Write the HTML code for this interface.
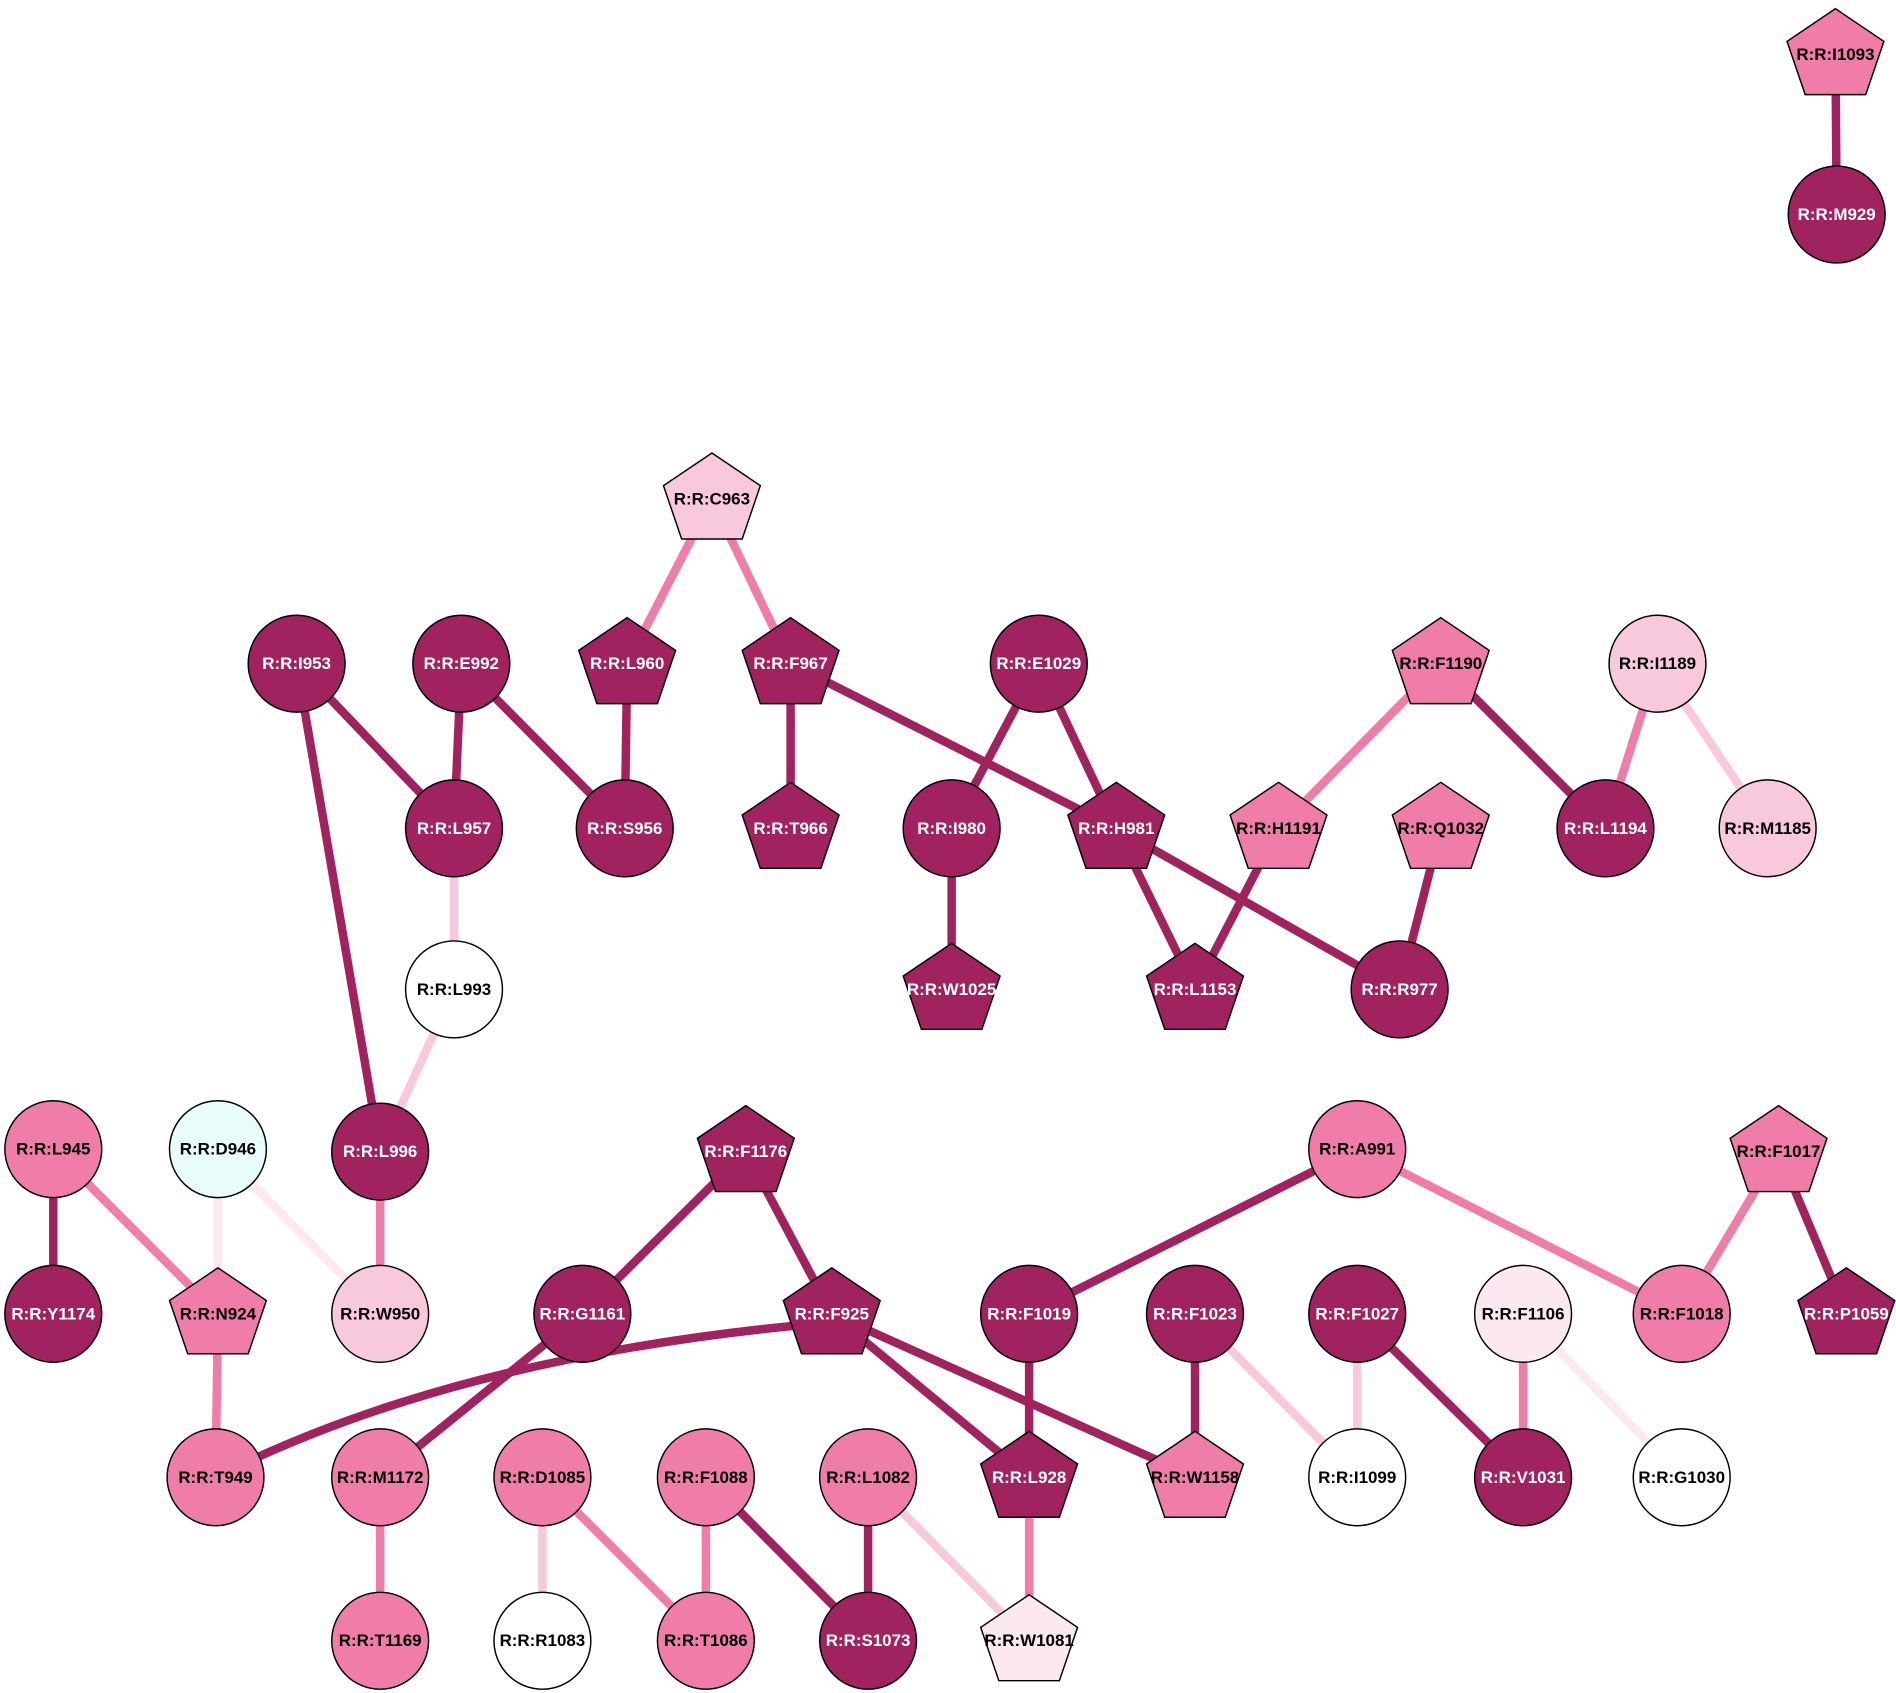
<!DOCTYPE html>
<html><head><meta charset="utf-8"><style>
html,body{margin:0;padding:0;background:#fff;}
svg{display:block;}
text{font-family:"Liberation Sans",Arial,sans-serif;font-weight:bold;font-size:14px;text-anchor:middle;dominant-baseline:central;}
.d{fill:#a0225e;stroke:#000;stroke-width:1.2}
.m{fill:#f07ca9;stroke:#000;stroke-width:1.2}
.l{fill:#f8c8dc;stroke:#000;stroke-width:1.2}
.v{fill:#fce8f0;stroke:#000;stroke-width:1.2}
.c{fill:#e8fcfc;stroke:#000;stroke-width:1.2}
.w{fill:#fff;stroke:#000;stroke-width:1.2}
.tw{fill:#fff}.tb{fill:#000}
line,path{stroke-width:7;fill:none}
.ed{stroke:#a0225e}.em{stroke:#f07ca9}.el{stroke:#f8c8dc}.ev{stroke:#fce8f0}
</style></head><body>
<svg width="1896" height="1693" viewBox="0 0 1566 1398" xmlns="http://www.w3.org/2000/svg">
<defs>
<polygon id="p" points="0,-38 40,-11 25,33 -25,33 -40,-11"/>
</defs>
<line class="ed" x1="1516" y1="45" x2="1517" y2="177"/>
<line class="em" x1="588" y1="412" x2="518" y2="548"/>
<line class="em" x1="588" y1="412" x2="653" y2="548"/>
<line class="ed" x1="245" y1="548" x2="375" y2="684"/>
<line class="ed" x1="245" y1="548" x2="314" y2="951"/>
<line class="ed" x1="381" y1="548" x2="375" y2="684"/>
<line class="ed" x1="381" y1="548" x2="516" y2="684"/>
<line class="ed" x1="518" y1="548" x2="516" y2="684"/>
<line class="ed" x1="653" y1="548" x2="653" y2="684"/>
<line class="ed" x1="653" y1="548" x2="922" y2="684"/>
<line class="ed" x1="922" y1="684" x2="1156" y2="817"/>
<line class="ed" x1="858" y1="548" x2="786" y2="684"/>
<line class="ed" x1="858" y1="548" x2="922" y2="684"/>
<line class="ed" x1="786" y1="684" x2="786" y2="817"/>
<line class="ed" x1="922" y1="684" x2="987" y2="817"/>
<line class="ed" x1="1056" y1="684" x2="987" y2="817"/>
<line class="em" x1="1190" y1="548" x2="1056" y2="684"/>
<line class="ed" x1="1190" y1="548" x2="1326" y2="684"/>
<line class="em" x1="1369" y1="548" x2="1326" y2="684"/>
<line class="el" x1="1369" y1="548" x2="1460" y2="684"/>
<line class="ed" x1="1190" y1="684" x2="1156" y2="817"/>
<line class="el" x1="375" y1="684" x2="375" y2="817"/>
<line class="el" x1="375" y1="817" x2="314" y2="951"/>
<line class="em" x1="314" y1="951" x2="314" y2="1085"/>
<line class="ed" x1="44" y1="949" x2="44" y2="1085"/>
<line class="em" x1="44" y1="949" x2="180" y2="1085"/>
<line class="ev" x1="180" y1="949" x2="180" y2="1085"/>
<line class="ev" x1="180" y1="949" x2="314" y2="1085"/>
<line class="em" x1="180" y1="1085" x2="178" y2="1220"/>
<line class="ed" x1="616" y1="951" x2="481" y2="1085"/>
<line class="ed" x1="616" y1="951" x2="687" y2="1085"/>
<line class="ed" x1="481" y1="1085" x2="314" y2="1220"/>
<path class="ed" d="M178 1220 Q380 1118 687 1092"/>
<line class="ed" x1="687" y1="1085" x2="850" y2="1220"/>
<line class="ed" x1="687" y1="1085" x2="987" y2="1220"/>
<line class="ed" x1="1121" y1="949" x2="850" y2="1085"/>
<line class="em" x1="1121" y1="949" x2="1389" y2="1085"/>
<line class="em" x1="1469" y1="951" x2="1389" y2="1085"/>
<line class="ed" x1="1469" y1="951" x2="1525" y2="1085"/>
<line class="ed" x1="850" y1="1085" x2="850" y2="1220"/>
<line class="ed" x1="987" y1="1085" x2="987" y2="1220"/>
<line class="el" x1="987" y1="1085" x2="1121" y2="1220"/>
<line class="el" x1="1121" y1="1085" x2="1121" y2="1220"/>
<line class="ed" x1="1121" y1="1085" x2="1258" y2="1220"/>
<line class="em" x1="1258" y1="1085" x2="1258" y2="1220"/>
<line class="ev" x1="1258" y1="1085" x2="1389" y2="1220"/>
<line class="em" x1="314" y1="1220" x2="314" y2="1355"/>
<line class="el" x1="448" y1="1220" x2="448" y2="1355"/>
<line class="em" x1="448" y1="1220" x2="583" y2="1355"/>
<line class="em" x1="583" y1="1220" x2="583" y2="1355"/>
<line class="ed" x1="583" y1="1220" x2="717" y2="1355"/>
<line class="ed" x1="717" y1="1220" x2="717" y2="1355"/>
<line class="el" x1="717" y1="1220" x2="850" y2="1355"/>
<line class="em" x1="850" y1="1220" x2="850" y2="1355"/>
<use href="#p" class="m" x="1516" y="45"/><text class="tb" x="1516" y="45">R:R:I1093</text>
<circle class="d" cx="1517" cy="177" r="40"/><text class="tw" x="1517" y="177">R:R:M929</text>
<use href="#p" class="l" x="588" y="412"/><text class="tb" x="588" y="412">R:R:C963</text>
<circle class="d" cx="245" cy="548" r="40"/><text class="tw" x="245" y="548">R:R:I953</text>
<circle class="d" cx="381" cy="548" r="40"/><text class="tw" x="381" y="548">R:R:E992</text>
<use href="#p" class="d" x="518" y="548"/><text class="tw" x="518" y="548">R:R:L960</text>
<use href="#p" class="d" x="653" y="548"/><text class="tw" x="653" y="548">R:R:F967</text>
<circle class="d" cx="858" cy="548" r="40"/><text class="tw" x="858" y="548">R:R:E1029</text>
<use href="#p" class="m" x="1190" y="548"/><text class="tb" x="1190" y="548">R:R:F1190</text>
<circle class="l" cx="1369" cy="548" r="40"/><text class="tb" x="1369" y="548">R:R:I1189</text>
<circle class="d" cx="375" cy="684" r="40"/><text class="tw" x="375" y="684">R:R:L957</text>
<circle class="d" cx="516" cy="684" r="40"/><text class="tw" x="516" y="684">R:R:S956</text>
<use href="#p" class="d" x="653" y="684"/><text class="tw" x="653" y="684">R:R:T966</text>
<circle class="d" cx="786" cy="684" r="40"/><text class="tw" x="786" y="684">R:R:I980</text>
<use href="#p" class="d" x="922" y="684"/><text class="tw" x="922" y="684">R:R:H981</text>
<use href="#p" class="m" x="1056" y="684"/><text class="tb" x="1056" y="684">R:R:H1191</text>
<use href="#p" class="m" x="1190" y="684"/><text class="tb" x="1190" y="684">R:R:Q1032</text>
<circle class="d" cx="1326" cy="684" r="40"/><text class="tw" x="1326" y="684">R:R:L1194</text>
<circle class="l" cx="1460" cy="684" r="40"/><text class="tb" x="1460" y="684">R:R:M1185</text>
<circle class="w" cx="375" cy="817" r="40"/><text class="tb" x="375" y="817">R:R:L993</text>
<use href="#p" class="d" x="786" y="817"/><text class="tw" x="786" y="817">R:R:W1025</text>
<use href="#p" class="d" x="987" y="817"/><text class="tw" x="987" y="817">R:R:L1153</text>
<circle class="d" cx="1156" cy="817" r="40"/><text class="tw" x="1156" y="817">R:R:R977</text>
<circle class="m" cx="44" cy="949" r="40"/><text class="tb" x="44" y="949">R:R:L945</text>
<circle class="c" cx="180" cy="949" r="40"/><text class="tb" x="180" y="949">R:R:D946</text>
<circle class="d" cx="314" cy="951" r="40"/><text class="tw" x="314" y="951">R:R:L996</text>
<use href="#p" class="d" x="616" y="951"/><text class="tw" x="616" y="951">R:R:F1176</text>
<circle class="m" cx="1121" cy="949" r="40"/><text class="tb" x="1121" y="949">R:R:A991</text>
<use href="#p" class="m" x="1469" y="951"/><text class="tb" x="1469" y="951">R:R:F1017</text>
<circle class="d" cx="44" cy="1085" r="40"/><text class="tw" x="44" y="1085">R:R:Y1174</text>
<use href="#p" class="m" x="180" y="1085"/><text class="tb" x="180" y="1085">R:R:N924</text>
<circle class="l" cx="314" cy="1085" r="40"/><text class="tb" x="314" y="1085">R:R:W950</text>
<circle class="d" cx="481" cy="1085" r="40"/><text class="tw" x="481" y="1085">R:R:G1161</text>
<use href="#p" class="d" x="687" y="1085"/><text class="tw" x="687" y="1085">R:R:F925</text>
<circle class="d" cx="850" cy="1085" r="40"/><text class="tw" x="850" y="1085">R:R:F1019</text>
<circle class="d" cx="987" cy="1085" r="40"/><text class="tw" x="987" y="1085">R:R:F1023</text>
<circle class="d" cx="1121" cy="1085" r="40"/><text class="tw" x="1121" y="1085">R:R:F1027</text>
<circle class="v" cx="1258" cy="1085" r="40"/><text class="tb" x="1258" y="1085">R:R:F1106</text>
<circle class="m" cx="1389" cy="1085" r="40"/><text class="tb" x="1389" y="1085">R:R:F1018</text>
<use href="#p" class="d" x="1525" y="1085"/><text class="tw" x="1525" y="1085">R:R:P1059</text>
<circle class="m" cx="178" cy="1220" r="40"/><text class="tb" x="178" y="1220">R:R:T949</text>
<circle class="m" cx="314" cy="1220" r="40"/><text class="tb" x="314" y="1220">R:R:M1172</text>
<circle class="m" cx="448" cy="1220" r="40"/><text class="tb" x="448" y="1220">R:R:D1085</text>
<circle class="m" cx="583" cy="1220" r="40"/><text class="tb" x="583" y="1220">R:R:F1088</text>
<circle class="m" cx="717" cy="1220" r="40"/><text class="tb" x="717" y="1220">R:R:L1082</text>
<use href="#p" class="d" x="850" y="1220"/><text class="tw" x="850" y="1220">R:R:L928</text>
<use href="#p" class="m" x="987" y="1220"/><text class="tb" x="987" y="1220">R:R:W1158</text>
<circle class="w" cx="1121" cy="1220" r="40"/><text class="tb" x="1121" y="1220">R:R:I1099</text>
<circle class="d" cx="1258" cy="1220" r="40"/><text class="tw" x="1258" y="1220">R:R:V1031</text>
<circle class="w" cx="1389" cy="1220" r="40"/><text class="tb" x="1389" y="1220">R:R:G1030</text>
<circle class="m" cx="314" cy="1355" r="40"/><text class="tb" x="314" y="1355">R:R:T1169</text>
<circle class="w" cx="448" cy="1355" r="40"/><text class="tb" x="448" y="1355">R:R:R1083</text>
<circle class="m" cx="583" cy="1355" r="40"/><text class="tb" x="583" y="1355">R:R:T1086</text>
<circle class="d" cx="717" cy="1355" r="40"/><text class="tw" x="717" y="1355">R:R:S1073</text>
<use href="#p" class="v" x="850" y="1355"/><text class="tb" x="850" y="1355">R:R:W1081</text>
</svg>
</body></html>
